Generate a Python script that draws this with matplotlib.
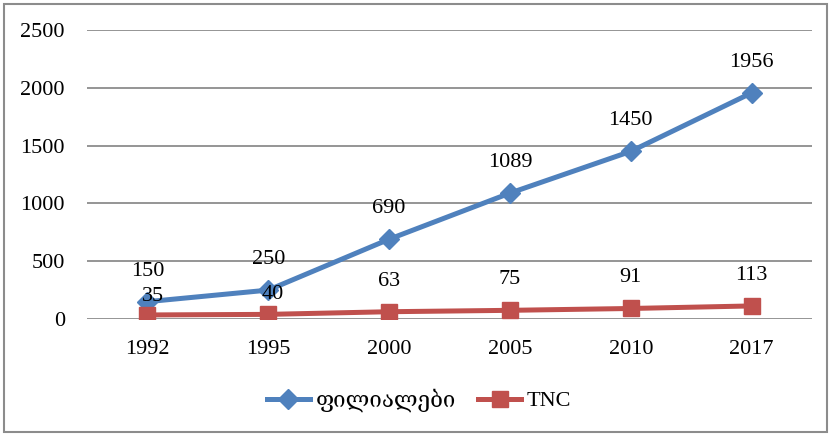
import matplotlib
matplotlib.use("Agg")
import matplotlib.pyplot as plt
from matplotlib.patches import Rectangle

years = ["1992", "1995", "2000", "2005", "2010", "2017"]
branches = [150, 250, 690, 1089, 1450, 1956]
tnc = [35, 40, 63, 75, 91, 113]
series_names = ["ფილიალები", "TNC"]
y_ticks = [0, 500, 1000, 1500, 2000, 2500]

FONT = ["Liberation Serif", "DejaVu Serif", "DejaVu Sans"]
plt.rcParams["font.family"] = FONT
FS = 16

BLUE = "#4F81BD"
RED = "#C0504D"
GRID = "#8C8C8C"

fig = plt.figure(figsize=(8.32, 4.36), dpi=100)
ax = fig.add_axes([87 / 832, 117 / 436, 725 / 832, 289 / 436])

x = list(range(len(years)))
ax.plot(x, branches, color=BLUE, lw=3.6, marker="D", ms=10, mec=BLUE,
        mfc=BLUE, label=series_names[0], zorder=3)
ax.plot(x, tnc, color=RED, lw=3.6, marker="s", ms=12, mec=RED,
        mfc=RED, label=series_names[1], zorder=4)

for xi, v in zip(x, branches):
    ax.annotate(str(v), (xi, v), xytext=(0, 22), textcoords="offset points",
                ha="center", va="center", fontsize=FS, zorder=5)

# the first two TNC labels sit lower, just under the blue line
tnc_label_offsets = [(4, 13), (3, 14), (0, 22), (0, 22), (0, 22), (0, 22)]
for xi, v, off in zip(x, tnc, tnc_label_offsets):
    ax.annotate(str(v), (xi, v), xytext=off, textcoords="offset points",
                ha="center", va="center", fontsize=FS, zorder=5)

ax.set_xlim(-0.5, len(years) - 0.5)
ax.set_ylim(0, 2500)
ax.set_yticks(y_ticks)
ax.set_yticklabels([str(t) for t in y_ticks], fontsize=FS)
ax.set_xticks(x)
ax.set_xticklabels(years, fontsize=FS)
ax.tick_params(axis="both", length=0)
ax.tick_params(axis="x", pad=15)
ax.tick_params(axis="y", pad=16)
ax.yaxis.grid(True, color=GRID, lw=1.3)
ax.set_axisbelow(True)
for s in ax.spines.values():
    s.set_visible(False)

fig.legend(loc="center", bbox_to_anchor=(419 / 832, 1 - 400 / 436), ncol=2,
           frameon=False, handlelength=1.95, columnspacing=1.0,
           handletextpad=0.25, prop={"family": FONT, "size": FS})

fig.patches.append(Rectangle((4 / 832, 4 / 436), 823 / 832, 428 / 436,
                             transform=fig.transFigure, fill=False,
                             edgecolor="#8C8C8C", lw=1.5))

fig.savefig("out.png", dpi=100)
